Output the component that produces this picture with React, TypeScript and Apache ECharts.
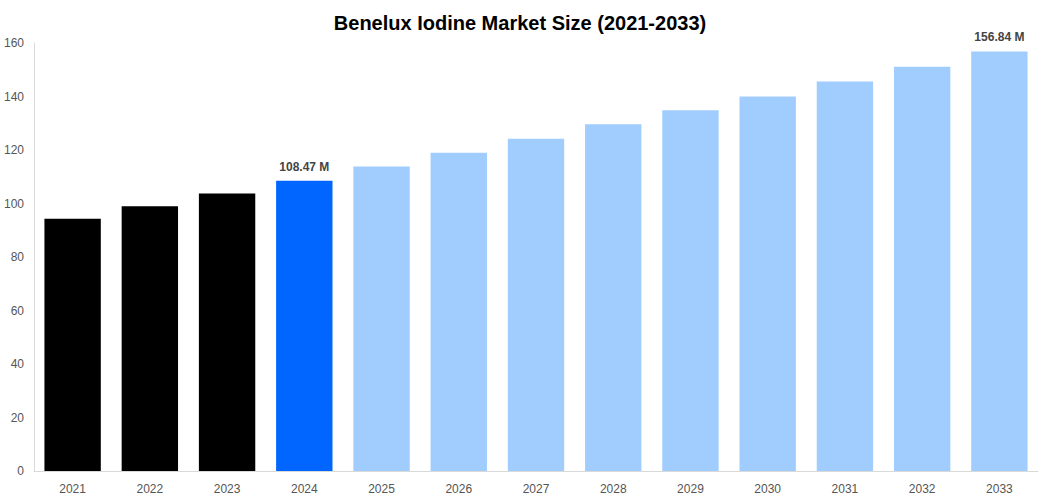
import React, { useEffect, useRef } from 'react'
import * as echarts from 'echarts'

const years = ['2021', '2022', '2023', '2024', '2025', '2026', '2027', '2028', '2029', '2030', '2031', '2032', '2033']
const sizes = [94.3, 99.0, 103.7, 108.47, 113.8, 119.0, 124.2, 129.6, 134.9, 140.0, 145.6, 151.1, 156.84]
const barColors = ['#000000', '#000000', '#000000', '#0066ff', '#a0cdfd', '#a0cdfd', '#a0cdfd', '#a0cdfd', '#a0cdfd', '#a0cdfd', '#a0cdfd', '#a0cdfd', '#a0cdfd']
const labelledYears = ['2024', '2033']

const App = () => {
    const chartRef = useRef<HTMLDivElement>(null)

    useEffect(() => {
        const chart = echarts.init(chartRef.current!, null, { renderer: 'svg' })
        chart.setOption({
            animation: false,
            textStyle: { fontFamily: 'Liberation Sans, Arial, sans-serif' },
            title: {
                text: 'Benelux Iodine Market Size (2021-2033)',
                left: 'center',
                top: 8,
                textStyle: { fontSize: 20, fontWeight: 'bold', color: '#000' }
            },
            grid: { left: 34, right: 2, top: 43, bottom: 29 },
            xAxis: {
                type: 'category',
                data: years,
                axisLine: { lineStyle: { color: '#d9d9d9' } },
                axisTick: { show: false },
                axisLabel: { color: '#555', fontSize: 12, margin: 12 }
            },
            yAxis: {
                type: 'value',
                min: 0,
                max: 160,
                interval: 20,
                axisLine: { show: true, lineStyle: { color: '#d9d9d9' } },
                splitLine: { show: false },
                axisLabel: { color: '#555', fontSize: 12, margin: 10 }
            },
            series: [
                {
                    type: 'bar',
                    barCategoryGap: '27%',
                    data: sizes.map((v, i) => ({
                        value: v,
                        itemStyle: { color: barColors[i] },
                        label: {
                            show: labelledYears.includes(years[i]),
                            position: 'top',
                            distance: 8,
                            formatter: (p: any) => p.value.toFixed(2) + ' M',
                            color: '#444',
                            fontWeight: 'bold',
                            fontSize: 12
                        }
                    }))
                }
            ]
        })
        return () => {
            chart.dispose()
        }
    }, [])

    return (
        <div style={{ position: 'absolute', left: 0, top: 0, width: '1040px', height: '500px' }} ref={chartRef}></div>
    )
}
export default App
